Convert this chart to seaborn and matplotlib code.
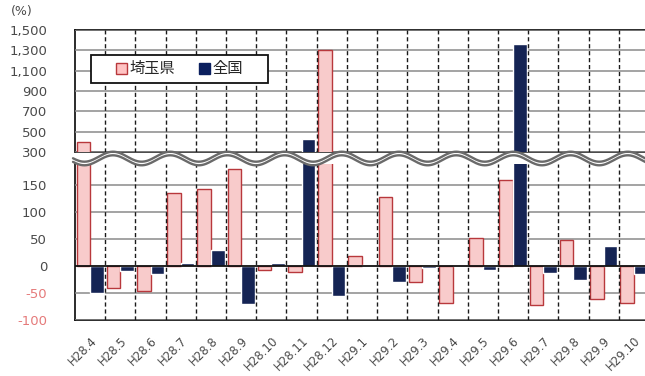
import numpy as np
import pandas as pd
import seaborn as sns
import matplotlib.pyplot as plt
from matplotlib.patches import Rectangle, Patch
from matplotlib.lines import Line2D

# Month-over-month change (%) by month
months = ["H28.4", "H28.5", "H28.6", "H28.7", "H28.8", "H28.9", "H28.10",
          "H28.11", "H28.12", "H29.1", "H29.2", "H29.3", "H29.4", "H29.5",
          "H29.6", "H29.7", "H29.8", "H29.9", "H29.10"]
saitama = [400, -40, -46, 136, 143, 179, -7, -12, 1300, 18, 128, -29, -68,
           51, 160, -72, 49, -62, -68]
zenkoku = [-50, -10, -15, 5, 30, -71, 5, 430, -55, 1, -30, -4, 2, -7, 1365,
           -13, -26, 37, -15]
series = ["埼玉県", "全国"]

upper_ticks = [300, 500, 700, 900, 1100, 1300, 1500]
lower_ticks = [-100, -50, 0, 50, 100, 150]

PINK, PINK_EDGE, NAVY = "#FFC3C3", "#B8383C", "#0B1F5E"
TICK_COLOR, NEG_COLOR = "#4a4a4a", "#E57A7A"

df = pd.DataFrame({
    "month": months * 2,
    "value": saitama + zenkoku,
    "series": [series[0]] * len(months) + [series[1]] * len(months),
})

sns.set_theme(style="white")
plt.rcParams["font.family"] = ["DejaVu Sans", "Noto Sans CJK JP"]

W, H = 645, 376


def fx(px):
    return px / W


def fy(py):
    return 1 - py / H


fig = plt.figure(figsize=(W / 100, H / 100), dpi=100)
ax_up = fig.add_axes([fx(75), fy(152), 574 / W, 122 / H])
ax_lo = fig.add_axes([fx(75), fy(320), 574 / W, 156 / H])

for ax in (ax_up, ax_lo):
    sns.barplot(data=df, x="month", y="value", hue="series", order=months,
                hue_order=series, palette=[PINK, NAVY], width=0.9,
                legend=False, ax=ax, zorder=5)
    for bar in ax.containers[0]:
        bar.set_edgecolor(PINK_EDGE)
    ax.set_xlim(-0.5, len(months) - 0.5)

# upper part of the broken axis
ax_up.set_ylim(300, 1500)
ax_up.set_yticks(upper_ticks)
ax_up.set_yticklabels([f"{v:,}" for v in upper_ticks], fontsize=9.5,
                      color=TICK_COLOR)
ax_up.set_xticks([])
ax_up.set_xlabel(None)
ax_up.set_ylabel(None)
ax_up.spines["right"].set_visible(False)
ax_up.spines["top"].set_color("#111")
ax_up.spines["left"].set_color("#111")
ax_up.spines["bottom"].set_color("#333")

# lower part of the broken axis
ax_lo.set_ylim(-100, 189)
ax_lo.set_yticks(lower_ticks)
ax_lo.set_yticklabels([str(v) for v in lower_ticks], fontsize=9.5,
                      color=TICK_COLOR)
for lab, v in zip(ax_lo.get_yticklabels(), lower_ticks):
    if v < 0:
        lab.set_color(NEG_COLOR)
ax_lo.set_xlabel(None)
ax_lo.set_ylabel(None)
ax_lo.spines["top"].set_visible(False)
ax_lo.spines["right"].set_visible(False)
ax_lo.spines["left"].set_color("#111")
ax_lo.spines["bottom"].set_color("#111")
ax_lo.set_xticks(range(len(months)))
ax_lo.set_xticklabels(months, rotation=45, ha="right", rotation_mode="anchor",
                      fontsize=8.5, color=TICK_COLOR)
for ax in (ax_up, ax_lo):
    ax.yaxis.set_tick_params(length=0, pad=20)
ax_lo.xaxis.set_tick_params(length=0, pad=10)

# gridlines under the bars, dashed month separators, zero line
for ax, ticks in ((ax_up, upper_ticks), (ax_lo, lower_ticks)):
    for t in ticks:
        if t != 0:
            ax.axhline(t, color="#8a8a8a", lw=1.1, zorder=4.5)
    for k in range(len(months) - 1):
        ax.axvline(k + 0.5, color="#1a1a1a", lw=1.0, ls=(0, (3, 2)), zorder=7)
ax_lo.axhline(0, color="#111", lw=1.3, zorder=7)

# wavy break marks between the two parts
xs = np.linspace(73, 652, 600)
wave_top = 156.7 - 5 * np.cos(2 * np.pi * (xs - 113) / 57.2)
for ys in (wave_top, wave_top + 3.6):
    fig.add_artist(Line2D(fx(xs), fy(ys), transform=fig.transFigure,
                          color="#6a6a6a", lw=1.7, zorder=6))

# unit label
fig.text(fx(22), fy(11), "(%)", ha="center", va="center", fontsize=9,
         color=TICK_COLOR)

# legend box
fig.add_artist(Rectangle((fx(91), fy(83)), 177 / W, 28 / H,
                         transform=fig.transFigure, facecolor="white",
                         edgecolor="#111", lw=1.3, zorder=4))
handles = [Patch(facecolor=PINK, edgecolor=PINK_EDGE),
           Patch(facecolor=NAVY, edgecolor=NAVY)]
fig.legend(handles, series, loc="center left",
           bbox_to_anchor=(fx(116), fy(69)), ncol=2, frameon=False,
           fontsize=11, handlelength=0.7, handleheight=0.7,
           handletextpad=0.15, columnspacing=1.6, borderpad=0,
           borderaxespad=0)

fig.savefig("out.png", dpi=100)
